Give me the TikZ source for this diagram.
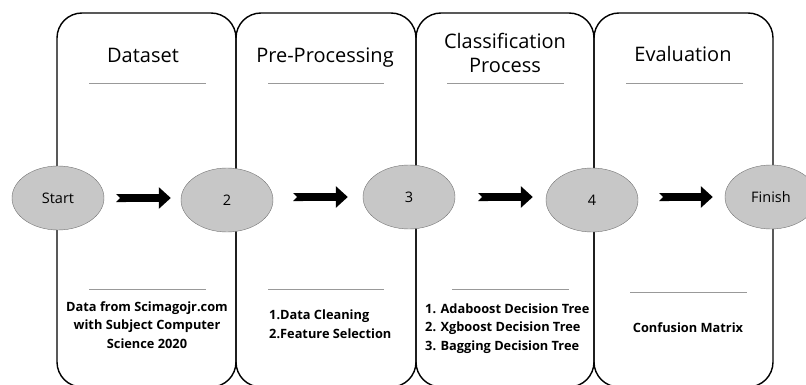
\documentclass[tikz,border=0pt]{standalone}
\usepackage{fontspec}
\setmainfont{Open Sans}
\usetikzlibrary{arrows.meta,positioning,shapes}

\begin{document}
\begin{tikzpicture}[
x=1pt, y=-1pt,
phase/.style={draw, line width=1.4pt, rounded corners=25pt},
stage/.style={ellipse, draw=black!55, fill=black!22, minimum width=92pt, minimum height=64pt, inner sep=0pt, font=\fontsize{14.5}{16}\selectfont},
title/.style={anchor=base, font=\fontsize{20}{24}\selectfont, align=center},
body/.style={font=\bfseries\fontsize{12.8}{18.5}\selectfont, inner sep=0pt},
rule/.style={draw=black!40, line width=0.8pt},
arrow/.style={{Triangle Cap[reversed]}-{Triangle[length=12pt, width=21pt]}, line width=8pt}
]
\clip (0,0) rectangle (806,385);

% Phase frames
\foreach \xa/\xb in {57/236, 236/416, 416/594, 594/773}
  \draw[phase] (\xa,387) rectangle (\xb,13);

% Stages
\node[stage] (start) at (58,198) {Start};
\node[stage] (s2) at (227,200) {2};
\node[stage] (s3) at (409,197) {3};
\node[stage] (s4) at (592,200) {4};
\node[stage] (finish) at (771,197) {Finish};

% Arrows
\draw[arrow, shorten <=12pt, shorten >=10pt] (start.east) -- (start.east -| s2.west);
\draw[arrow, shorten <=20pt, shorten >=15pt] (s2.east |- s3.west) -- (s3.west);
\draw[arrow, shorten <=23pt, shorten >=13pt] (s3.east) -- (s3.east -| s4.west);
\draw[arrow, shorten <=21pt, shorten >=12pt] (s4.east |- finish.west) -- (finish.west);

% Titles (base = last line)
\node[title] (tdata) at (143,63) {Dataset};
\node[title] (tpre) at (325,63) {Pre-Processing};
\node[title] (tclass) at (505,73) {Classification\\Process};
\node[title] (teval) at (683,62) {Evaluation};

% Rules
\draw[rule] (89,83) -- (206,83);
\draw[rule] (268,83) -- (384,83);
\draw[rule] (447,83) -- (564,83);
\draw[rule] (626,83) -- (743,83);
\draw[rule] (89,289) -- (206,289);
\draw[rule] (268,289) -- (384,289);
\draw[rule] (452,289) -- (569,289);
\draw[rule] (630,292) -- (747,292);

% Details
\node[body, anchor=base, align=center] (ddata) at (147,348) {Data from Scimagojr.com\\with Subject Computer\\Science 2020};
\node[body, anchor=base west, align=left] (dpre) at (269,338) {1.Data Cleaning\\2.Feature Selection};
\node[body, anchor=base west, align=left] (dclass) at (425,350) {1. Adaboost Decision Tree\\2. Xgboost Decision Tree\\3. Bagging Decision Tree};
\node[body, anchor=base] (deval) at (688,332) {Confusion Matrix};

\end{tikzpicture}
\end{document}
